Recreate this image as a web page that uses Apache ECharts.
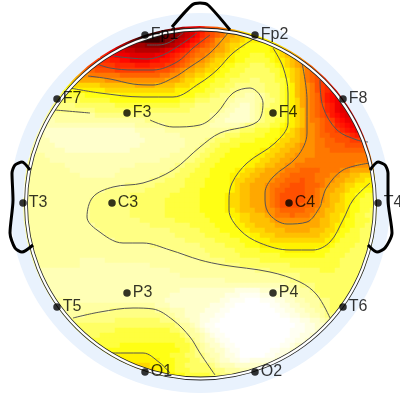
<!DOCTYPE html>
<html><head><meta charset="utf-8">
<style>html,body{margin:0;padding:0;background:#fff}#c{width:400px;height:400px}</style>
<script src="https://cdn.jsdelivr.net/npm/echarts@6/dist/echarts.min.js"></script>
</head><body><div id="c"></div>
<script>
// Scalp map values, one character per 5 px cell, level 0..z; '.' = no cell. Groups of 12 cells.
const levelChars = "0123456789abcdefghijklmnopqrstuvwxyz";
const levelColors = ["#ffffff","#fffff2","#ffffe2","#ffffcc","#ffffb6","#ffffa2","#ffff84","#ffff64","#ffff3e","#ffff14",
 "#fff200","#ffd800","#ffc000","#ffa800","#ff9000","#ff7800","#ff6400","#ff5000","#ff3c00","#ff2800",
 "#ff1800","#ff0800","#f00000","#e00000","#cc0000","#b80000","#a40000","#900000","#7c0000","#680000",
 "#560000","#440000","#340000","#260000","#180000","#0a0000"];
const fieldRows = [
"............ ............ ......rqqonm kihgfe...... ............ ............",
"............ ............ ..wvutsrqonl kihgfedcbaa. ............ ............",
"............ ...........w xxxwvtsrponl jihgfddccbaa aa.......... ............",
"............ .........rsu vwwwusrponlk ihgeddccbaaa aaab........ ............",
"............ .......ppqqq qrrrrqpomlji hgfedcbba999 99abbc...... ............",
"............ .....lmnnoop ppppon mlkjhg ffeddcba9999 99aabcde.... ............",
"............ ....jklmmmnn nnnmmlkjihgf fedccba99988 899abccde... ............",
"............ ..iijjkkllmm mmllkkjihgfe edcbbaa99888 889aabcdefg. ............",
"............ .hiiiiijjjjk kkjjjiihgfed dcbba9988877 7889abcdefgg ............",
"............ fgghhhhiiiii iiihhhgfeddc cbba99888777 77889abcdfgh i...........",
"...........d eeffffffgggg ggggffeedccb baa998887777 77789abcdfgh ij..........",
"..........cc dddddeeeeeee eeeeedddcbba a99888777766 777889bcdfgh ijk.........",
".........aab bbbbcccccccd dddccccbbbaa 998887766666 677789acdefh ijkl........",
"........8899 aaaaabbbbbbb bbbbbbbaaa99 988777665556 677789acdefh ijkm........",
".......77888 89999999aaaa aaaaaaaa9998 887766655445 567789acdefg iklmn.......",
".......77777 888888999999 999999998887 776665544445 566789abdefg iklmnn......",
"......666667 777777788888 888888887776 666665443345 667789abdefg hjkmnnn.....",
".....5666666 666777777777 777777777766 666654433345 677789abcefg hjkmnnn.....",
".....5555555 555666666666 666666666666 665544333345 677789abcefg hiklmnnn....",
"....44455555 555555555555 566666666666 665443333345 677889abceff ghiklmnnm...",
"....34444444 444444444445 555556666666 554444445667 77889aabceef ghhjklmmm...",
"...333333333 333333333334 444445555555 555555667778 8899aabcdeef ghhijklmmm..",
"...443333333 333333333333 444444445555 555667778888 8999abbcdeef gghhhijkkk..",
"..4444333333 333333333333 344444444555 566777888889 999abbccdeef fgghhhiiiii.",
"..4444433333 333333333333 444444444555 667788889999 99abbccdeeef fgggghhhhhh.",
"..5444444333 333333333344 444444445556 677888999999 aabbccddeeef ffggggggggg.",
"..5554444444 444444444444 444444555566 77888999999a abbccddeeeef fffffffffff.",
".55555444444 444444444444 444455555667 7888999999aa bbccddeeefff fffffffffff.",
".55555555444 444444444445 555555566777 888999999aab bccddeefffff fffffffeeee.",
".55555555544 444444445555 555555667778 8899999aabbc cdddefffgggg ffffeeddddd.",
".55555555555 444444455555 555566677788 889999aabbcc dddeffgggggf ffeeddccbbb.",
".55555555555 555555555555 556667777888 899999abbccd ddeffggghggf feeddccbbaa.",
".55555555555 555555555666 666777777888 899999abccdd deffgghhhggg feddcbbaaaa.",
".55555555555 555556666666 677777778888 999999abccdd defgghhhhggf eddccbaa999.",
".55555555555 555666666677 777777888888 99999abbccdd defghhhhhggf edccbaa9988.",
"555555555555 556666666677 777778888888 99999abbccdd defghhhhhgff edccbaa98888",
"555555555555 556666666677 777778888888 99999abbccdd defghhhhggff ddcbba998888",
"555555555555 556666666677 777778888888 99999aabcccd deefgggggffe dccbba998877",
"555555555555 556666666677 777778888888 899999aabbcc cdefffgfffed dcbbaa988777",
"555555555555 556666666666 777777788888 8899999abbcc ccdeeeeeeedd ccbba9988877",
"555555555555 555666666666 667777777788 8889999aabbc cccddddddddd ccbaa9988777",
"555555555555 555566666666 666666777777 88889999aabb bccccdddddcc cbba99887777",
"555555555555 555556666666 666666677777 7888889999aa bbbccccccccc bba998887777",
"555555555555 555555566666 666666666777 77788888999a aabbbbbbbbbb baa988887777",
".55555555555 555555555555 556666666666 777778888999 aaaaaaaaaaaa aa9888877777",
".55555555555 555555555555 555555666666 677777788888 99999aaaaaa9 99888877777.",
".55555555555 555555555555 555555555666 667777778888 888899999999 98888777777.",
"..5555555555 444445555555 555555555555 666667777777 888888888888 88887777777.",
"..5555555555 444444444444 445555555555 555566667777 777777888888 88887777777.",
"...444444444 444444444444 444444555555 555555555556 667777777777 8887777777..",
"...444444444 444444444444 444444445555 555555555555 555566667777 7777777777..",
"....44444444 444444444444 444444444444 444445555555 555555667777 777777777...",
"....44444444 444444444444 444444444444 444444444444 444445556667 777777777...",
".....4444444 444444444444 444444443333 333333322222 333344455567 77777777....",
".....4444444 444444444444 444444333333 333332221111 222333445556 7777777.....",
"......555544 444444444444 444443333333 333322111000 111223344555 6677777.....",
".......55555 555555555555 555444333333 332221100000 001122334455 667777......",
".......55555 555555666666 666555444333 322211000000 000112233445 56777.......",
"........5555 566666666666 666665544333 222110000000 000011223344 5667........",
".........566 666666677777 777766654433 221100000000 000000112233 4567........",
"..........67 777777777777 777777765543 211000000000 000000011223 346.........",
"...........7 777777788888 888888776554 321100000000 000000111223 34..........",
"............ 777788888888 888888887655 432110000000 000000112233 4...........",
"............ .78888888888 888888888765 433211000000 000001122334 ............",
"............ ..8888889999 999999988876 543321100000 00001123345. ............",
"............ ....99999999 999999998876 544332110000 001122345... ............",
"............ .....aaaaaaa aa9999888776 654432210000 01122345.... ............",
"............ .......aaaaa aaaa99988877 655433221122 222334...... ............",
"............ .........abb bbaa99988777 776544433333 3445........ ............",
"............ ...........c cbbaa9988877 777665554444 55.......... ............",
"............ ............ ..aaaaa99888 88776666655. ............ ............",
"............ ............ ......aa9999 888777...... ............ ............"
];

const electrodeNames = ["Fp1","Fp2","F7","F3","F4","F8","T3","C3","C4","T4","T5","P3","P4","T6","O1","O2"];
const electrodeX = [145,255,57,127,273,343,23,112,289,378,57,127,273,343,145,255];
const electrodeY = [35,35,99,113,113,99,203,203,203,203,307,293,293,307,372,372];

const contour26 = [[147,45],[158,45],[170,42],[183,33]];
const contour22 = [[113,56],[130,58],[147,59],[163,55],[180,45],[197,33]];
const contour18 = [[97,64],[110,68],[133,70],[153,70],[177,62],[193,48],[210,35]];
const contour14a = [[88,76],[110,79],[133,84],[153,85],[173,78],[190,67],[210,53],[228,33]];
const contour10a = [[70,88],[100,93],[143,97],[173,97],[200,83],[217,70],[233,53],[255,38]];
const contour6a = [[55,110],[90,113]];
const contour6b = [[150,120],[173,127],[200,125],[217,113],[233,93],[250,88],[263,103],[257,122],[220,133],[200,147],[173,170],[143,183],[113,187],[93,197],[87,217],[97,230],[123,243],[143,243],[170,250],[200,260],[223,265],[270,272],[300,282],[317,295],[330,318]];
const contour10b = [[273,48],[283,67],[288,93],[288,123],[275,143],[247,163],[232,183],[229,200],[229,210],[240,230],[260,243],[290,250],[313,250],[330,242],[343,220],[353,200],[370,183]];
const contour14b = [[302,63],[307,100],[307,133],[297,157],[273,177],[265,193],[265,200],[270,215],[287,224],[307,222],[320,207],[322,200],[327,187],[343,170],[370,163]];
const contour18b = [[320,80],[323,107],[337,130],[357,140],[368,142]];
const contour6c = [[73,318],[100,312],[133,308],[153,309],[173,320],[190,337],[200,353],[215,375]];
const contour10c = [[107,353],[123,353],[143,353],[160,363],[170,373]];

const nose = [[172,27],[192,5],[200,3],[208,5],[230,30]];
const earLeft = [[30,170],[22,162],[15,165],[12,173],[13,200],[10,233],[15,248],[22,252],[33,245]];
const earRight = [[370,170],[378,162],[385,165],[388,173],[388,200],[392,233],[385,248],[377,252],[368,245]];

const haloDisc = [[200,203,190,177]];
const headCircle = [[200.5,204,174.5]];

const cells = [];
fieldRows.forEach((row, r) => {
  row.replace(/ /g, "").split("").forEach((ch, c) => {
    if (ch !== ".") cells.push([c, r, levelChars.indexOf(ch)]);
  });
});
const idx = n => Array.from({length:n}, (_, i) => i);
const contours = [contour26,contour22,contour18,contour14a,contour10a,contour6a,contour6b,contour10b,contour14b,contour18b,contour6c,contour10c];

const chart = echarts.init(document.getElementById("c"), null, {renderer:"canvas"});
chart.setOption({
  animation:false,
  backgroundColor:"#fff",
  grid:[
    {left:20, top:23, width:360, height:360},
    {left:0, top:0, width:400, height:400}
  ],
  xAxis:[
    {type:"category", gridIndex:0, data:idx(72), show:false},
    {type:"value", gridIndex:1, min:0, max:400, show:false}
  ],
  yAxis:[
    {type:"category", gridIndex:0, data:idx(72), inverse:true, show:false},
    {type:"value", gridIndex:1, min:0, max:400, inverse:true, show:false}
  ],
  visualMap:{show:false, seriesIndex:0, dimension:2, min:0, max:35, inRange:{color:levelColors}},
  series:[
    {type:"heatmap", xAxisIndex:0, yAxisIndex:0, data:cells, progressive:0, z:2, silent:true, itemStyle:{borderWidth:0}},
    {type:"custom", xAxisIndex:1, yAxisIndex:1, z:3, silent:true, clip:false, data:haloDisc,
      renderItem:(p,api)=>{const c=api.coord([api.value(0),api.value(1)]);
        return {type:"ring", shape:{cx:c[0],cy:c[1],r:api.value(2),r0:api.value(3)}, style:{fill:"#e9f2fd"}};}},
    ...contours.map(pts => ({type:"line", xAxisIndex:1, yAxisIndex:1, data:pts, smooth:0.35, symbol:"none", z:4, silent:true,
      lineStyle:{color:"#555",width:1}})),
    {type:"custom", xAxisIndex:1, yAxisIndex:1, z:5, silent:true, clip:false, data:headCircle,
      renderItem:(p,api)=>{const c=api.coord([api.value(0),api.value(1)]);const r=api.value(2);
        return {type:"group", children:[
          {type:"circle", shape:{cx:c[0],cy:c[1],r:r}, style:{fill:"none",stroke:"#222",lineWidth:3.8}},
          {type:"circle", shape:{cx:c[0],cy:c[1],r:r}, style:{fill:"none",stroke:"#fff",lineWidth:2.2}}
        ]};}},
    ...[nose,earLeft,earRight].map(pts => ({type:"line", xAxisIndex:1, yAxisIndex:1, data:pts, smooth:0.25, symbol:"none", z:6, silent:true,
      lineStyle:{color:"#000",width:3}})),
    {type:"scatter", xAxisIndex:1, yAxisIndex:1, z:8, symbolSize:7.5, silent:true,
      itemStyle:{color:"#000"},
      label:{show:true, position:"right", distance:2, formatter:p=>p.name, color:"#000",
        fontFamily:"Liberation Sans", fontSize:16},
      data:electrodeNames.map((n,i)=>({name:n, value:[electrodeX[i],electrodeY[i]]}))}
  ]
});
</script></body></html>
